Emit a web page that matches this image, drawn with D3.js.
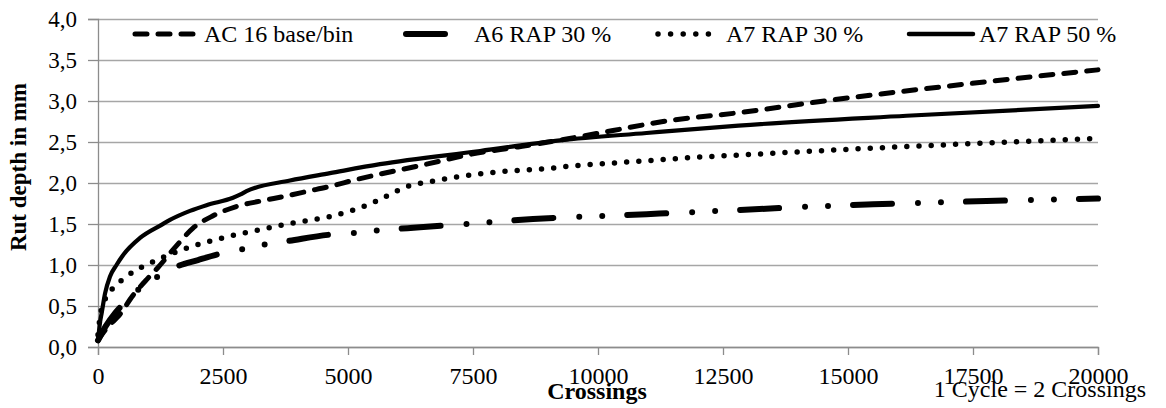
<!DOCTYPE html>
<html>
<head>
<meta charset="utf-8">
<script src="https://cdn.jsdelivr.net/npm/d3@7"></script>
<style>
  html, body { margin: 0; padding: 0; background: #fff; }
  svg { display: block; }
  text { font-family: "Liberation Serif", "Times New Roman", serif; fill: #000; }
</style>
</head>
<body>
<svg id="chart" width="1166" height="408"></svg>
<script>
// ---------- data ----------
const seriesNames = ["AC 16 base/bin", "A6 RAP 30 %", "A7 RAP 30 %", "A7 RAP 50 %"];
const xTicks = [0, 2500, 5000, 7500, 10000, 12500, 15000, 17500, 20000];
const yTicks = [0, 0.5, 1, 1.5, 2, 2.5, 3, 3.5, 4];

const acBaseBin = [[0,0.08],[100,0.17],[250,0.28],[400,0.37],[700,0.63],[1000,0.84],[1200,0.97],[1550,1.22],[1900,1.45],[2300,1.60],[2750,1.71],[3250,1.78],[3750,1.84],[4200,1.90],[4650,1.96],[5150,2.04],[5650,2.11],[6500,2.22],[7450,2.35],[8400,2.44],[9400,2.54],[10300,2.64],[11300,2.75],[12850,2.86],[14650,3.01],[16550,3.15],[18450,3.28],[20000,3.38]];
const a6Rap30 = [[0,0.08],[150,0.25],[350,0.42],[600,0.58],[850,0.72],[1170,0.85],[1570,0.98],[2000,1.06],[2400,1.13],[2870,1.19],[3320,1.25],[3770,1.29],[4640,1.37],[5100,1.39],[5570,1.42],[6440,1.46],[7360,1.50],[8700,1.56],[10970,1.62],[12800,1.67],[14170,1.71],[15500,1.74],[17770,1.78],[20000,1.81]];
const a7Rap30 = [[0,0.15],[50,0.40],[120,0.55],[210,0.65],[370,0.76],[570,0.86],[770,0.94],[970,1.00],[1400,1.12],[1840,1.22],[2300,1.30],[2770,1.37],[3240,1.43],[3700,1.49],[4170,1.54],[4640,1.59],[5100,1.67],[5570,1.78],[5770,1.84],[6200,1.96],[6670,2.02],[7140,2.07],[7620,2.11],[8090,2.14],[8560,2.16],[9040,2.18],[9500,2.21],[9990,2.23],[10930,2.27],[11870,2.31],[12810,2.34],[14970,2.41],[17100,2.47],[20000,2.545]];
const a7Rap50 = [[0,0.07],[40,0.30],[75,0.42],[140,0.65],[240,0.86],[370,1.00],[500,1.12],[840,1.33],[1270,1.49],[1440,1.55],[1840,1.66],[2170,1.73],[2700,1.82],[2850,1.86],[2970,1.90],[3840,2.03],[4640,2.12],[5640,2.23],[7640,2.39],[9240,2.52],[10970,2.61],[12810,2.70],[16170,2.82],[20000,2.94]];

// ---------- layout ----------
const svg = d3.select("#chart");
const x = d3.scaleLinear().domain([0, 20000]).range([98, 1098]);
const y = d3.scaleLinear().domain([0, 4]).range([347, 19]);
const fmtY = v => d3.format(".1f")(v).replace(".", ",");

// gridlines
svg.append("g")
  .attr("transform", "translate(98,0)")
  .call(d3.axisLeft(y).tickValues(yTicks).tickSize(-1000).tickFormat(""))
  .call(g => g.select(".domain").remove())
  .call(g => g.selectAll("line").attr("stroke", "#a6a6a6").attr("stroke-width", 1.3));

// y axis
svg.append("g")
  .attr("transform", "translate(98,0)")
  .call(d3.axisLeft(y).tickValues(yTicks).tickSize(10).tickPadding(11).tickFormat(fmtY))
  .call(g => g.select(".domain").attr("stroke", "#8c8c8c").attr("stroke-width", 1.3))
  .call(g => g.selectAll("line").attr("stroke", "#8c8c8c").attr("stroke-width", 1.3))
  .call(g => g.selectAll("text").attr("font-size", 23).attr("fill", "#000"));

// x axis
svg.append("g")
  .attr("transform", "translate(0,347)")
  .call(d3.axisBottom(x).tickValues(xTicks).tickSize(8).tickPadding(12).tickFormat(d3.format("d")))
  .call(g => g.select(".domain").attr("stroke", "#8c8c8c").attr("stroke-width", 1.3))
  .call(g => g.selectAll("line").attr("stroke", "#8c8c8c").attr("stroke-width", 1.3))
  .call(g => g.selectAll("text").attr("font-size", 24).attr("fill", "#000"));

// series styles
const styles = [
  { data: acBaseBin, width: 5,   dash: "12,11" },
  { data: a6Rap30,   width: 6,   dash: "39,26,0,23,0,25" },
  { data: a7Rap30,   width: 5.5, dash: "0,12.2" },
  { data: a7Rap50,   width: 4.2, dash: null }
];

const line = d3.line().x(d => x(d[0])).y(d => y(d[1])).curve(d3.curveMonotoneX);

const lines = svg.append("g");
styles.forEach(s => {
  lines.append("path")
    .datum(s.data)
    .attr("d", line)
    .attr("fill", "none")
    .attr("stroke", "#000")
    .attr("stroke-width", s.width)
    .attr("stroke-linecap", "round")
    .attr("stroke-linejoin", "round")
    .attr("stroke-dasharray", s.dash);
});

// legend
const legendItems = [
  { name: seriesNames[0], x1: 135, x2: 196, tx: 204, width: 5, dash: "12,11" },
  { name: seriesNames[1], x1: 406, x2: 445, tx: 474, width: 6, dash: null },
  { name: seriesNames[2], x1: 658, x2: 721, tx: 726, width: 5.5, dash: "0,12.6" },
  { name: seriesNames[3], x1: 909, x2: 973, tx: 979, width: 4.5, dash: null }
];
const leg = svg.append("g");
legendItems.forEach(it => {
  leg.append("line")
    .attr("x1", it.x1).attr("x2", it.x2).attr("y1", 34).attr("y2", 34)
    .attr("stroke", "#000").attr("stroke-width", it.width)
    .attr("stroke-linecap", "round")
    .attr("stroke-dasharray", it.dash);
  leg.append("text")
    .attr("x", it.tx).attr("y", 42)
    .attr("font-size", 24)
    .text(it.name);
});

// axis titles
svg.append("text")
  .attr("transform", "translate(26,167) rotate(-90)")
  .attr("text-anchor", "middle")
  .attr("font-size", 23)
  .attr("font-weight", "bold")
  .text("Rut depth in mm");

svg.append("text")
  .attr("x", 597).attr("y", 399)
  .attr("text-anchor", "middle")
  .attr("font-size", 24)
  .attr("font-weight", "bold")
  .text("Crossings");

svg.append("text")
  .attr("x", 1146).attr("y", 397)
  .attr("text-anchor", "end")
  .attr("font-size", 24)
  .text("1 Cycle = 2 Crossings");
</script>
</body>
</html>
